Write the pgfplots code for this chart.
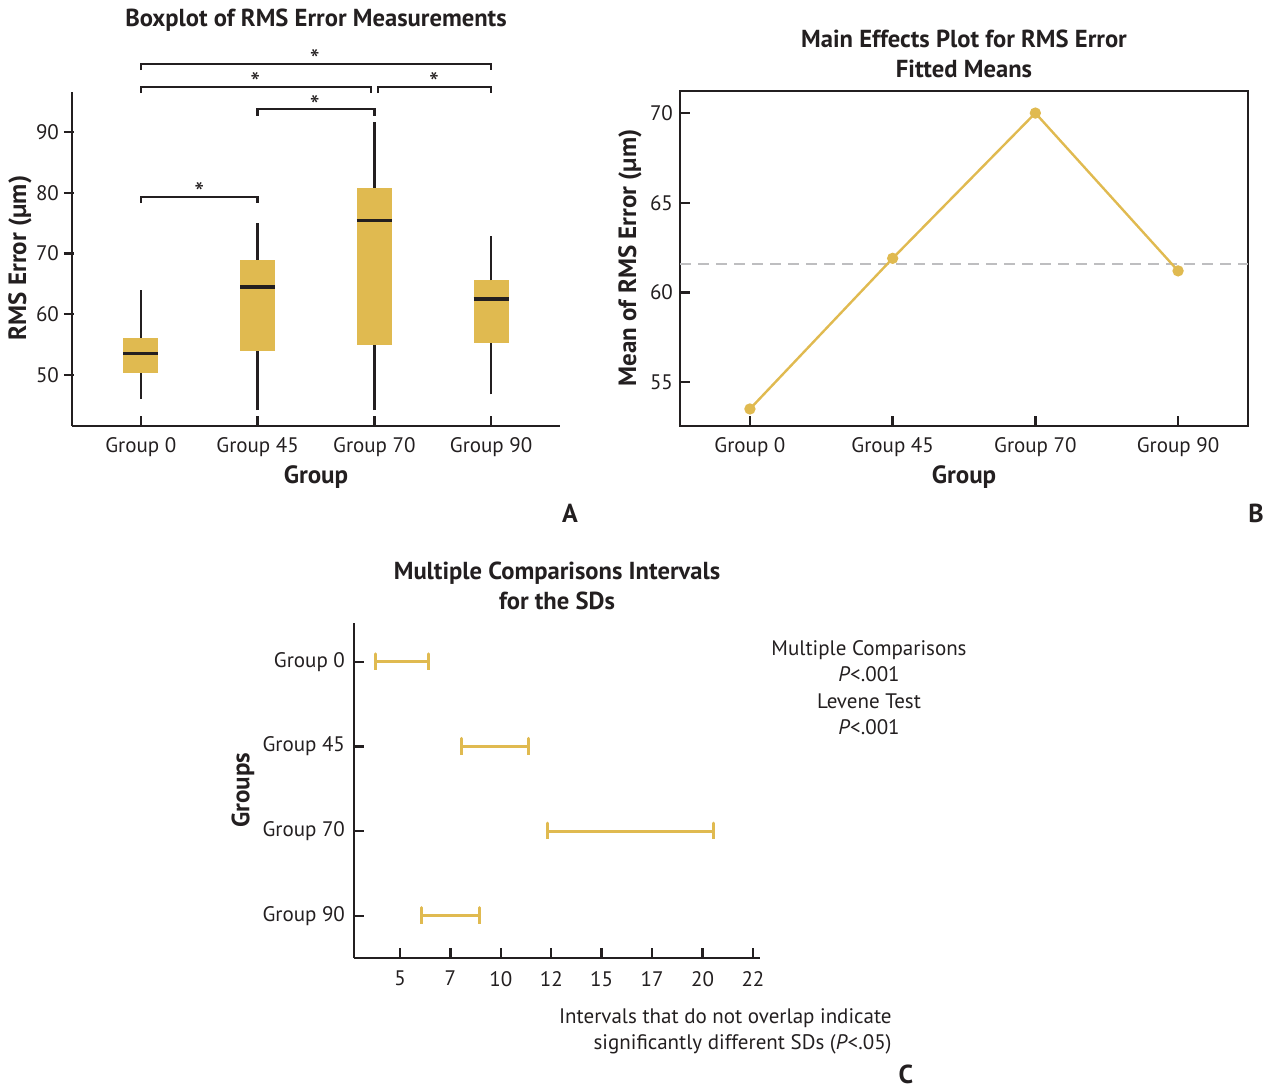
\documentclass[border=0pt]{standalone}
\usepackage{fontspec}
\setmainfont{PT Sans}
\usepackage{pgfplots}
\pgfplotsset{compat=1.18}
\definecolor{gold}{RGB}{224,186,80}
\definecolor{ink}{RGB}{35,31,32}
\definecolor{meangray}{RGB}{190,190,192}
\pgfplotsset{
  /pgf/number format/assume math mode=true,
  every axis/.append style={
    scale only axis, clip=false,
    axis line style={ink, line width=1.3pt, -},
    tick align=inside, major tick length=5pt,
    tick style={ink, line width=1.2pt},
    ticklabel style={font=\fontsize{10.5}{12}\selectfont, text=ink},
  },
  boxfill/.style={fill=gold, draw=none, mark=none},
  whisk/.style={ink, line width=1.2pt, mark=none},
  med/.style={ink, line width=1.6pt, mark=none},
  brk/.style={ink, line width=1.2pt, mark=none},
}
\newcommand{\tfont}{\bfseries\fontsize{12.3}{15}\selectfont}
\newcommand{\lfont}{\bfseries\fontsize{12.5}{14}\selectfont}
\newcommand{\nfont}{\fontsize{10.5}{13.2}\selectfont}
\newcommand{\sfont}{\fontsize{14}{16}\selectfont}
\begin{document}
\begin{tikzpicture}
\useasboundingbox (0,0) rectangle (637pt,-544pt);

% ---------------- Panel A ----------------
\begin{axis}[
  at={(36pt,-213pt)}, anchor=south west,
  width=244pt, height=167pt,
  xmin=-0.59, xmax=3.59, ymin=41.6, ymax=96.6,
  axis x line*=bottom, axis y line*=left,
  tick align=inside,
  xtick={0,1,2,3}, xticklabels={Group 0,Group 45,Group 70,Group 90},
  ytick={50,60,70,80,90},
  every y tick/.append style={xshift=-4pt},
  xticklabel style={yshift=-2pt},
  yticklabel style={xshift=-3pt},
]
% Group 0: whiskers 46.1/64.0, quartiles 50.3/56.1, median 53.5
\addplot[boxfill] coordinates {(-0.15,50.3)(0.15,50.3)(0.15,56.1)(-0.15,56.1)};
\addplot[whisk] coordinates {(0,46.1)(0,50.3)};
\addplot[whisk] coordinates {(0,56.1)(0,64.0)};
\addplot[med] coordinates {(-0.15,53.5)(0.15,53.5)};
% Group 45: 44.2/75.0, 53.9/69.0, 64.5
\addplot[boxfill] coordinates {(0.85,53.9)(1.15,53.9)(1.15,69.0)(0.85,69.0)};
\addplot[whisk] coordinates {(1,44.2)(1,53.9)};
\addplot[whisk] coordinates {(1,69.0)(1,75.0)};
\addplot[med] coordinates {(0.85,64.5)(1.15,64.5)};
% Group 70: 44.2/91.7, 55.0/80.8, 75.5
\addplot[boxfill] coordinates {(1.85,55.0)(2.15,55.0)(2.15,80.8)(1.85,80.8)};
\addplot[whisk] coordinates {(2,44.2)(2,55.0)};
\addplot[whisk] coordinates {(2,80.8)(2,91.7)};
\addplot[med] coordinates {(1.85,75.5)(2.15,75.5)};
% Group 90: 46.8/72.9, 55.2/65.6, 62.5
\addplot[boxfill] coordinates {(2.85,55.2)(3.15,55.2)(3.15,65.6)(2.85,65.6)};
\addplot[whisk] coordinates {(3,46.8)(3,55.2)};
\addplot[whisk] coordinates {(3,65.6)(3,72.9)};
\addplot[med] coordinates {(2.85,62.5)(3.15,62.5)};
% significance brackets
\addplot[brk] coordinates {(0,100.2)(0,101.2)(3,101.2)(3,100.2)};
\addplot[brk] coordinates {(0,96.4)(0,97.4)(1.97,97.4)(1.97,96.4)};
\addplot[brk] coordinates {(2.03,96.4)(2.03,97.4)(3,97.4)(3,96.4)};
\addplot[brk] coordinates {(1,92.7)(1,93.8)(2,93.8)(2,92.7)};
\addplot[brk] coordinates {(0,78.3)(0,79.35)(1,79.35)(1,78.3)};
\node[font=\sfont, text=ink] at (axis cs:1.49,101.9) {*};
\node[font=\sfont, text=ink] at (axis cs:0.98,98.1) {*};
\node[font=\sfont, text=ink] at (axis cs:2.51,98.1) {*};
\node[font=\sfont, text=ink] at (axis cs:1.49,94.3) {*};
\node[font=\sfont, text=ink] at (axis cs:0.50,80.1) {*};
\end{axis}
\node[font=\tfont, text=ink] at (158pt,-10pt) {Boxplot of RMS Error Measurements};
\node[font=\lfont, text=ink] at (158pt,-238.5pt) {Group};
\node[font=\lfont, text=ink, rotate=90] at (10pt,-129pt) {RMS Error (µm)};
\node[font=\bfseries\fontsize{13}{15}\selectfont, text=ink] at (285pt,-256.5pt) {A};

% ---------------- Panel B ----------------
\begin{axis}[
  at={(340pt,-213pt)}, anchor=south west,
  width=284pt, height=167.5pt,
  xmin=-0.49, xmax=3.49, ymin=52.55, ymax=71.23,
  tick pos=left,
  xtick={0,1,2,3}, xticklabels={Group 0,Group 45,Group 70,Group 90},
  ytick={55,60,65,70},
  xticklabel style={yshift=-2pt},
]
\addplot[meangray, line width=1.1pt, dash pattern=on 5.5pt off 3.5pt, mark=none] coordinates {(-0.49,61.6)(3.49,61.6)};
\addplot[gold, line width=1.2pt, mark=*, mark size=2.2pt, mark options={fill=gold, draw=gold, solid}] coordinates {(0,53.5)(1,61.9)(2,70.0)(3,61.2)};
\end{axis}
\node[font=\tfont, text=ink, align=center] at (482pt,-27pt) {Main Effects Plot for RMS Error\\Fitted Means};
\node[font=\lfont, text=ink] at (482pt,-238.5pt) {Group};
\node[font=\lfont, text=ink, rotate=90] at (315pt,-129pt) {Mean of RMS Error (µm)};
\node[font=\bfseries\fontsize{13}{15}\selectfont, text=ink] at (628pt,-256.5pt) {B};

% ---------------- Panel C ----------------
\begin{axis}[
  at={(177pt,-479pt)}, anchor=south west,
  width=203pt, height=167.5pt,
  xmin=2.72, xmax=22.85, ymin=-0.5, ymax=3.46,
  axis x line*=bottom, axis y line*=left,
  tick align=inside,
  xtick={5,7.5,10,12.5,15,17.5,20,22.5},
  xticklabels={5,7,10,12,15,17,20,22},
  ytick={0,1,2,3}, yticklabels={Group 90,Group 70,Group 45,Group 0},
  xticklabel style={yshift=-3pt},
  yticklabel style={xshift=-1pt},
]
\addplot[gold, line width=1.5pt, line join=round, mark=none] coordinates {(3.77,2.905)(3.77,3.095)(3.77,3)(6.43,3)(6.43,3.095)(6.43,2.905)};
\addplot[gold, line width=1.5pt, line join=round, mark=none] coordinates {(8.06,1.905)(8.06,2.095)(8.06,2)(11.36,2)(11.36,2.095)(11.36,1.905)};
\addplot[gold, line width=1.5pt, line join=round, mark=none] coordinates {(12.29,0.905)(12.29,1.095)(12.29,1)(20.53,1)(20.53,1.095)(20.53,0.905)};
\addplot[gold, line width=1.5pt, line join=round, mark=none] coordinates {(6.07,-0.095)(6.07,0.095)(6.07,0)(8.93,0)(8.93,0.095)(8.93,-0.095)};
\end{axis}
\node[font=\tfont, text=ink, align=center] at (278.5pt,-293pt) {Multiple Comparisons Intervals\\for the SDs};
\node[font=\lfont, text=ink, rotate=90] at (121.5pt,-395pt) {Groups};
\node[font=\nfont, text=ink, align=center] at (434.5pt,-343.75pt) {Multiple Comparisons\\\textit{P}<.001\\Levene Test\\\textit{P}<.001};
\node[font=\nfont, text=ink, align=right, anchor=east, inner sep=0pt] at (446pt,-515.75pt) {Intervals that do not overlap indicate\\significantly different SDs (\textit{P}<.05)};
\node[font=\bfseries\fontsize{13}{15}\selectfont, text=ink, inner sep=0pt, anchor=base] at (453pt,-541.5pt) {C};
\end{tikzpicture}
\end{document}
